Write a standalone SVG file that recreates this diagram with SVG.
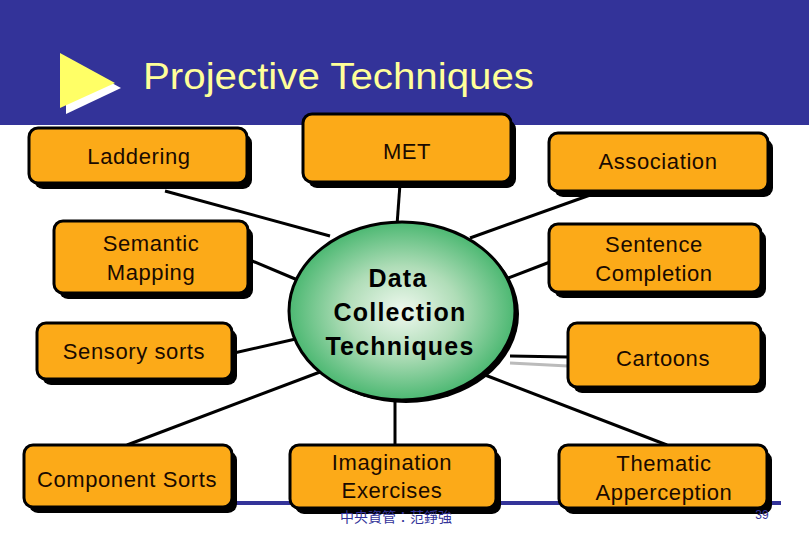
<svg xmlns="http://www.w3.org/2000/svg" width="809" height="539" viewBox="0 0 809 539">
<defs>
<radialGradient id="g" cx="50%" cy="50%" r="50%">
<stop offset="0" stop-color="#EEF8EE"/>
<stop offset="0.5" stop-color="#B0DDB8"/>
<stop offset="1" stop-color="#4CB872"/>
</radialGradient>
<style>
.sh{fill:#000}
.bx{fill:#FCAA18;stroke:#000;stroke-width:3}
.t{font-family:"Liberation Sans",Arial,sans-serif;font-size:22px;fill:#1A0A00;text-anchor:middle;letter-spacing:0.6px}
.c{stroke:#000;stroke-width:3;fill:none}
</style>
</defs>
<rect x="0" y="0" width="809" height="539" fill="#fff"/>
<rect x="0" y="0" width="809" height="125" fill="#333399"/>
<polygon points="66,58 66,114 121,88" fill="#fff"/>
<polygon points="60,53 60,108 115,83" fill="#FFFF66"/>
<text x="143" y="89" font-family="Liberation Sans,Arial,sans-serif" font-size="37" fill="#FFFF99" textLength="391" lengthAdjust="spacingAndGlyphs">Projective Techniques</text>
<line x1="232" y1="503" x2="781" y2="503" stroke="#333399" stroke-width="4"/>
<g id="connectors">
<line class="c" x1="165" y1="191" x2="330" y2="236"/>
<line class="c" x1="250" y1="260" x2="300" y2="281"/>
<line class="c" x1="234" y1="353" x2="300" y2="338"/>
<line class="c" x1="127" y1="445" x2="320" y2="372"/>
<line class="c" x1="400" y1="184" x2="397" y2="225"/>
<line class="c" x1="593" y1="194" x2="470" y2="238"/>
<line class="c" x1="550" y1="262" x2="508" y2="278"/>
<line class="c" x1="510" y1="356" x2="568" y2="357"/>
<line x1="510" y1="363" x2="568" y2="366" stroke="#BBBBBB" stroke-width="3"/>
<line class="c" x1="485" y1="375" x2="667" y2="445"/>
<line class="c" x1="395" y1="398" x2="395" y2="446"/>
</g>
<g id="center">
<ellipse cx="406" cy="314" rx="113" ry="89" class="sh"/>
<ellipse cx="402" cy="311" rx="113" ry="89" fill="url(#g)" stroke="#000" stroke-width="3"/>
<text font-family="Liberation Sans,Arial,sans-serif" font-weight="bold" font-size="25" fill="#000" text-anchor="middle" letter-spacing="1.2"><tspan x="398" y="287">Data</tspan><tspan x="400" y="321">Collection</tspan><tspan x="400" y="355">Techniques</tspan></text>
</g>
<g id="laddering">
<rect x="34" y="134" width="218" height="55" rx="9" class="sh"/>
<rect x="29" y="128" width="218" height="55" rx="9" class="bx"/>
<text class="t" x="139" y="164">Laddering</text>
</g>
<g id="met">
<rect x="308" y="120" width="208" height="68" rx="9" class="sh"/>
<rect x="303" y="114" width="208" height="68" rx="9" class="bx"/>
<text class="t" x="407" y="159">MET</text>
</g>
<g id="association">
<rect x="554" y="139" width="219" height="58" rx="9" class="sh"/>
<rect x="549" y="133" width="219" height="58" rx="9" class="bx"/>
<text class="t" x="658" y="169">Association</text>
</g>
<g id="semantic">
<rect x="59" y="227" width="194" height="72" rx="9" class="sh"/>
<rect x="54" y="221" width="194" height="72" rx="9" class="bx"/>
<text class="t"><tspan x="151" y="251">Semantic</tspan><tspan x="151" y="280">Mapping</tspan></text>
</g>
<g id="sentence">
<rect x="554" y="230" width="212" height="68" rx="9" class="sh"/>
<rect x="549" y="224" width="212" height="68" rx="9" class="bx"/>
<text class="t"><tspan x="654" y="252">Sentence</tspan><tspan x="654" y="281">Completion</tspan></text>
</g>
<g id="sensory">
<rect x="42" y="329" width="195" height="56" rx="9" class="sh"/>
<rect x="37" y="323" width="195" height="56" rx="9" class="bx"/>
<text class="t" x="134" y="359">Sensory sorts</text>
</g>
<g id="cartoons">
<rect x="573" y="329" width="193" height="64" rx="9" class="sh"/>
<rect x="568" y="323" width="193" height="64" rx="9" class="bx"/>
<text class="t" x="663" y="366">Cartoons</text>
</g>
<g id="component">
<rect x="29" y="451" width="208" height="62" rx="9" class="sh"/>
<rect x="24" y="445" width="208" height="62" rx="9" class="bx"/>
<text class="t" x="127" y="487" letter-spacing="0">Component Sorts</text>
</g>
<g id="imagination">
<rect x="295" y="451" width="206" height="63" rx="9" class="sh"/>
<rect x="290" y="445" width="206" height="63" rx="9" class="bx"/>
<text class="t"><tspan x="392" y="470">Imagination</tspan><tspan x="392" y="498">Exercises</tspan></text>
</g>
<g id="thematic">
<rect x="564" y="451" width="208" height="63" rx="9" class="sh"/>
<rect x="559" y="445" width="208" height="63" rx="9" class="bx"/>
<text class="t"><tspan x="664" y="471">Thematic</tspan><tspan x="664" y="500">Apperception</tspan></text>
</g>
<text x="396" y="522" font-family="Liberation Sans,'Noto Sans CJK TC',sans-serif" font-size="14" fill="#333399" text-anchor="middle">中央資管：范錚強</text>
<text x="762" y="519" font-family="Liberation Sans,Arial,sans-serif" font-size="12" fill="#333399" text-anchor="middle">39</text>
</svg>
